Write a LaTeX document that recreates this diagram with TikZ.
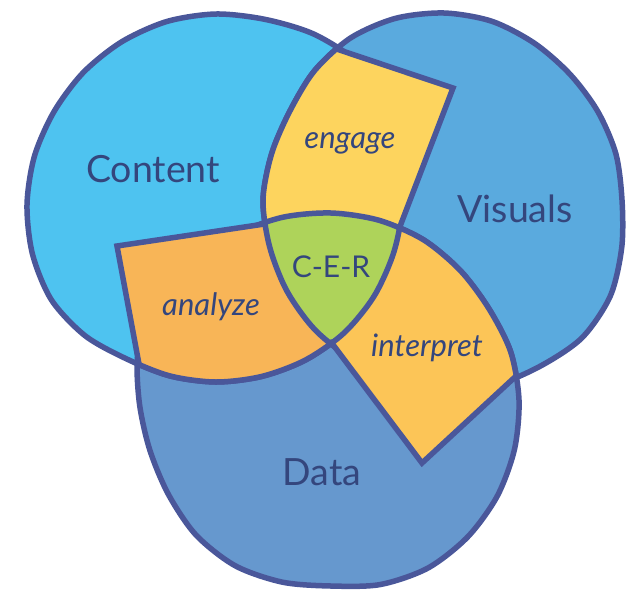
\documentclass[tikz,border=0pt]{standalone}
\usepackage{fontspec}
\setmainfont{Lato}
\usepackage{xcolor}
\usepackage{tikz}

\definecolor{contentblue}{HTML}{4EC3F0}
\definecolor{visualsblue}{HTML}{5AAADE}
\definecolor{datablue}{HTML}{6698CE}
\definecolor{rim}{HTML}{4A579A}
\definecolor{ink}{HTML}{34467D}
\definecolor{engagefill}{HTML}{FDD45E}
\definecolor{analyzefill}{HTML}{F8B557}
\definecolor{interpretfill}{HTML}{FCC557}
\definecolor{cerfill}{HTML}{AED35A}

% Contornos de los tres conjuntos
\newcommand{\contentblob}{plot[smooth cycle] coordinates {(27,205) (34.4,156.3) (54.1,111.5) (83.4,72.4) (121.7,41.8) (166.8,21.5) (216,14) (265.7,19.5) (314.5,34.4) (358.1,62.9) (387.5,106) (402.4,155) (403,205) (393.7,252.6) (374,296.3) (344,333) (305.5,360) (261.9,376.4) (216,382) (170.2,376) (127,359.1) (85.2,335.8) (51.5,300) (32.5,254.2)}}
\newcommand{\visualsblob}{plot[smooth cycle] coordinates {(263,200) (271.6,153.8) (289.9,111) (314.6,70.6) (350.5,38) (395.3,18.4) (444,13) (491.9,21.3) (534.5,43.3) (569.9,74.1) (597.7,111.3) (615.9,153.9) (622,200) (621.7,247.6) (610.3,296) (581.9,337.9) (540,366.3) (493.7,385.5) (444,390) (395.6,380.6) (352,359.3) (314.6,329.4) (286.8,290.8) (269.6,246.7)}}
\newcommand{\datablob}{plot[smooth cycle] coordinates {(139,400) (138.8,348.5) (162.1,302.5) (194.5,263.5) (235.5,234.6) (282.1,217.4) (331,213) (379.1,220.3) (423.5,239.8) (460.4,270.6) (489,308.8) (510.7,351.9) (519,400) (514.5,449.2) (497.3,496) (467.8,536.8) (428,568) (380.4,584.5) (331,586) (282.2,582.1) (235.3,565.8) (196,535) (168.2,494) (149.4,448.7)}}

\begin{document}
\begin{tikzpicture}[x=1pt, y=-1pt,
        rimline/.style={draw=rim, line width=5.5pt},
        kiteline/.style={draw=rim, line width=5.5pt, line join=miter, line cap=round},
        setlabel/.style={text=ink, anchor=base, font=\fontsize{37.5}{40}\selectfont},
        verblabel/.style={text=ink, anchor=base, font=\itshape\fontsize{31}{34}\selectfont},
        cerlabel/.style={text=ink, anchor=base, font=\fontsize{30}{34}\selectfont}
    ]
    \useasboundingbox (0,0) rectangle (626,590);

    % Esquinas de los petalos
    \coordinate (top) at (338,49.5);
    \coordinate (engagetip) at (453,88);
    \coordinate (engagefoot) at (399,229);
    \coordinate (analyzetip) at (117,246);
    \coordinate (analyzetop) at (264.5,224);
    \coordinate (analyzefoot) at (139,364);
    \coordinate (middle) at (331,342);
    \coordinate (interprettip) at (422,463);
    \coordinate (interpretfoot) at (515,377);

    % Conjuntos
    \fill[datablue] \datablob;
    \fill[visualsblue] \visualsblob;
    \fill[contentblue] \contentblob;
    \draw[rimline] \datablob;
    \draw[rimline] \visualsblob;
    \draw[rimline] \contentblob;

    % Petalo engage
    \begin{scope}
        \clip \visualsblob;
        \clip (top) -- (engagetip) -- (engagefoot) -- (330,300) -- (230,300) -- (230,30) -- cycle;
        \fill[engagefill] (0,0) rectangle (626,590);
    \end{scope}

    % Petalo analyze
    \begin{scope}
        \clip \contentblob;
        \clip (analyzetip) -- (270,222) -- (middle) -- (300,420) -- (149,420) -- cycle;
        \fill[analyzefill] (0,0) rectangle (626,590);
    \end{scope}

    % Petalo interpret
    \begin{scope}
        \clip \datablob;
        \clip (engagefoot) -- (middle) -- (interprettip) -- (540,354) -- (480,200) -- cycle;
        \fill[interpretfill] (0,0) rectangle (626,590);
    \end{scope}

    % Centro
    \begin{scope}
        \clip \contentblob;
        \clip \visualsblob;
        \fill[cerfill] \datablob;
    \end{scope}

    % Bordes interiores
    \begin{scope}
        \clip \contentblob;
        \draw[rimline] \visualsblob;
    \end{scope}
    \begin{scope}
        \clip \datablob;
        \draw[rimline] \contentblob;
    \end{scope}
    \begin{scope}
        \clip \visualsblob;
        \draw[rimline] \datablob;
    \end{scope}

    \draw[kiteline] (top) -- (engagetip) -- (engagefoot);
    \draw[kiteline] (analyzetop) -- (analyzetip) -- (analyzefoot);
    \draw[kiteline] (middle) -- (interprettip) -- (interpretfoot);

    % Etiquetas
    \node[setlabel] (content) at (153,182) {Content};
    \node[setlabel] (visuals) at (515,222) {Visuals};
    \node[setlabel] (data) at (322,485) {Data};
    \node[verblabel] (engage) at (350,148) {engage};
    \node[verblabel] (analyze) at (211,315) {analyze};
    \node[verblabel] (interpret) at (427,356) {interpret};
    \node[cerlabel] (cer) at (331,277) {C-E-R};

\end{tikzpicture}
\end{document}
